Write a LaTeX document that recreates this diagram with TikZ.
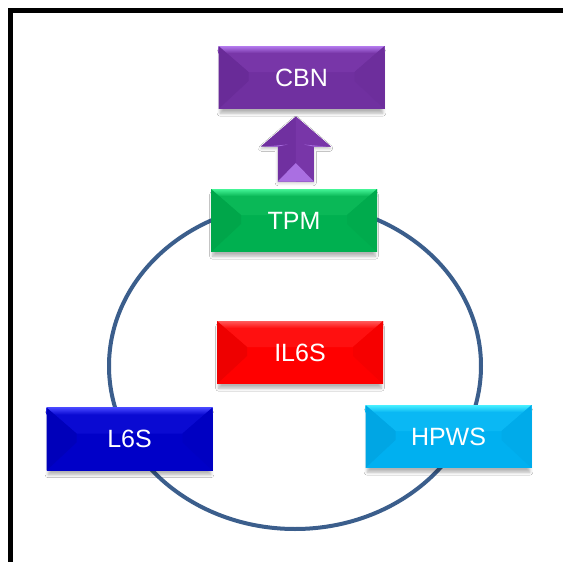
\documentclass[tikz,border=0pt]{standalone}
\usepackage{fontspec}
\setmainfont{Liberation Sans}
\usetikzlibrary{calc,shapes.geometric,shadows.blur}

% fills for the bevelled blocks: main, upper face, highlight, left face, right face
\definecolor{cbnM}{HTML}{7030A0}\definecolor{cbnT}{HTML}{7836A8}\definecolor{cbnH}{HTML}{B47AEE}\definecolor{cbnL}{HTML}{692B98}\definecolor{cbnR}{HTML}{6D2E9C}
\definecolor{tpmM}{HTML}{00B050}\definecolor{tpmT}{HTML}{0AB857}\definecolor{tpmH}{HTML}{44F496}\definecolor{tpmL}{HTML}{00A64A}\definecolor{tpmR}{HTML}{00AB4D}
\definecolor{ilsM}{HTML}{FF0000}\definecolor{ilsT}{HTML}{FF1010}\definecolor{ilsH}{HTML}{FF5A5A}\definecolor{ilsL}{HTML}{EE0000}\definecolor{ilsR}{HTML}{F60000}
\definecolor{lsM}{HTML}{0000C8}\definecolor{lsT}{HTML}{0A0AD2}\definecolor{lsH}{HTML}{4646FF}\definecolor{lsL}{HTML}{0000BA}\definecolor{lsR}{HTML}{0000C2}
\definecolor{hpM}{HTML}{00B0F0}\definecolor{hpT}{HTML}{0AB8F4}\definecolor{hpH}{HTML}{48F0FF}\definecolor{hpL}{HTML}{00A6E4}\definecolor{hpR}{HTML}{00ABEA}
\definecolor{ringC}{HTML}{3B5E8C}

\tikzset{
  softshadow/.style={blur shadow={shadow xshift=0pt, shadow yshift=-5pt, shadow scale=0.98,
    shadow blur radius=3pt, shadow blur steps=6, shadow opacity=30}},
  bevelblock/.style={
    rectangle, minimum width=166pt, minimum height=63pt, inner sep=0pt,
    fill=#1M, text=white, font=\fontsize{25}{25}\selectfont, softshadow,
    path picture={
      \coordinate (bnw) at (path picture bounding box.north west);
      \coordinate (bne) at (path picture bounding box.north east);
      \coordinate (bsw) at (path picture bounding box.south west);
      \coordinate (bse) at (path picture bounding box.south east);
      \fill[#1T] (bnw) -- (bne) -- ($(bne)+(-30pt,-26pt)$) -- ($(bnw)+(30pt,-26pt)$) -- cycle;
      \shade[top color=#1H, bottom color=#1T] (bnw) rectangle ($(bne)+(0,-7pt)$);
      \fill[#1L] (bnw) -- ($(bnw)+(30pt,-26pt)$) -- ($(bsw)+(30pt,28pt)$) -- (bsw) -- cycle;
      \fill[#1R] (bne) -- ($(bne)+(-30pt,-26pt)$) -- ($(bse)+(-30pt,28pt)$) -- (bse) -- cycle;
    }},
  ring/.style={draw=ringC, line width=4pt, ellipse, inner sep=0pt,
    minimum width=372pt, minimum height=326pt},
  frame/.style={draw=black, line width=5pt}
}

\begin{document}
\begin{tikzpicture}
  \useasboundingbox (0,0) rectangle (563pt,-562pt);
  \clip (0,0) rectangle (563pt,-562pt);
  \fill[white] (0,0) rectangle (563pt,-562pt);

  % outer frame, running past the right and lower edges
  \draw[frame] (10pt,-10.5pt) rectangle (700pt,-700pt);

  % the ring behind the blocks
  \node[ring] (loop) at (295pt,-366pt) {};

  % blocks
  \node[bevelblock=cbn] (cbn)  at (301.5pt,-77.5pt) {CBN};
  \node[bevelblock=tpm] (tpm)  at (294pt,-220.5pt)  {TPM};
  \node[bevelblock=ils] (il6s) at (300pt,-352.5pt)  {IL6S};
  \node[bevelblock=ls]  (l6s)  at (129.5pt,-439pt)  {L6S};
  \node[bevelblock=hp]  (hpws) at (448.5pt,-436.5pt) {HPWS};

  % block arrow from TPM up to CBN
  \coordinate (mid) at ($(cbn.south)!0.5!(tpm.north)$);
  \coordinate (am) at ($(mid)+(-2pt,0)$);
  \path[fill=cbnM, blur shadow={shadow xshift=0pt, shadow yshift=-2pt, shadow scale=0.98, shadow blur radius=3pt, shadow opacity=25}]
    ($(am)+(0,32.5pt)$) -- ($(am)+(35pt,2.5pt)$) -- ($(am)+(18pt,2.5pt)$) -- ($(am)+(18pt,-32.5pt)$)
    -- ($(am)+(-18pt,-32.5pt)$) -- ($(am)+(-18pt,2.5pt)$) -- ($(am)+(-35pt,2.5pt)$) -- cycle;
  \fill[cbnT] ($(am)+(0,32.5pt)$) -- ($(am)+(35pt,2.5pt)$) -- ($(am)+(18pt,2.5pt)$) -- ($(am)+(18pt,-32.5pt)$)
    -- ($(am)+(0,-32.5pt)$) -- cycle;
  \fill[cbnH!80!cbnM] ($(am)+(-30pt,2.5pt)$) -- ($(am)+(-8pt,4.5pt)$) -- ($(am)+(-18pt,2.5pt)$) -- cycle;
  \fill[cbnH!80!cbnM] ($(am)+(30pt,2.5pt)$) -- ($(am)+(8pt,4.5pt)$) -- ($(am)+(18pt,2.5pt)$) -- cycle;
  \fill[cbnH!85!cbnM] ($(am)+(-18pt,-32.5pt)$) -- ($(am)+(0,-14pt)$) -- ($(am)+(18pt,-32.5pt)$) -- cycle;
\end{tikzpicture}
\end{document}
